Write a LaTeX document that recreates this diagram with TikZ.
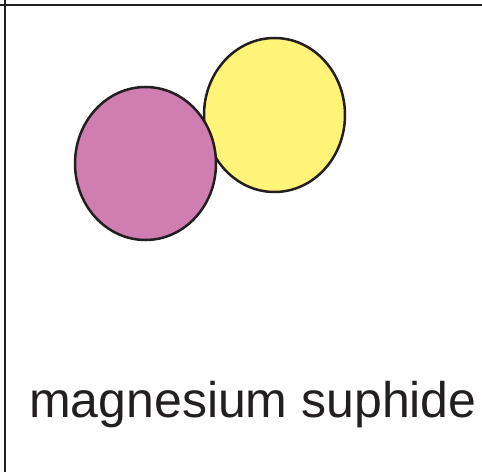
\documentclass[tikz,border=0pt]{standalone}
\usepackage{fontspec}
\setmainfont{Liberation Sans}
\usetikzlibrary{shapes.geometric}
\definecolor{inkdark}{RGB}{35,31,32}
\definecolor{mgpink}{RGB}{208,125,178}
\definecolor{syellow}{RGB}{255,244,120}
\tikzset{
  atom/.style={ellipse, draw=inkdark, line width=2.5pt, inner sep=0pt, minimum width=141pt, minimum height=153pt},
  frameline/.style={draw=inkdark, line width=2.5pt}
}
\begin{document}
\begin{tikzpicture}[x=1pt,y=1pt]
\useasboundingbox (0,0) rectangle (482,472);
\coordinate (tl) at (0,467);
\coordinate (tr) at (482,467);
\coordinate (lt) at (5,472);
\coordinate (lb) at (5,0);
\draw[frameline] (tl) -- (tr);
\draw[frameline] (lt) -- (lb);
\node[atom, fill=syellow, minimum height=154pt] (s) at (274.5,357) {};
\node[atom, fill=mgpink] (mg) at (145.5,308.5) {};
\node[anchor=base west, inner sep=0pt, text=inkdark, font=\fontsize{50}{56}\selectfont] (lbl) at (29,55) {magnesium suphide};
\end{tikzpicture}
\end{document}
